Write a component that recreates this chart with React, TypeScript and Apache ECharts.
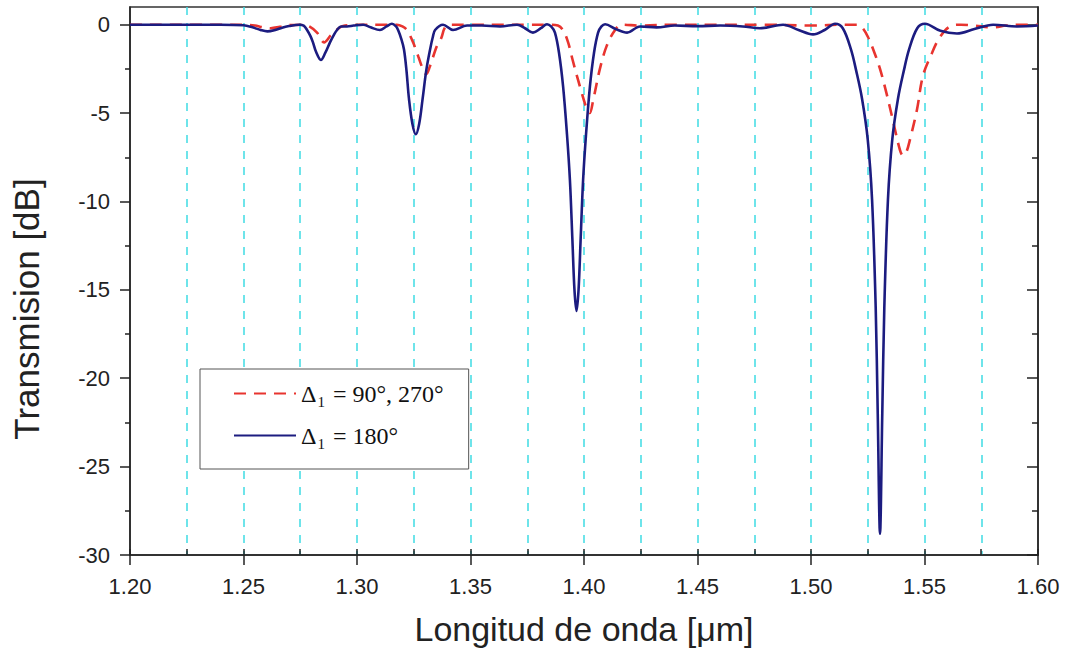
import React, { useEffect, useRef } from "react";
import * as echarts from "echarts";

// ---- data ----
const xTicks = [1.2, 1.25, 1.3, 1.35, 1.4, 1.45, 1.5, 1.55, 1.6];
const xMinorTicks = [1.225, 1.275, 1.325, 1.375, 1.425, 1.475, 1.525, 1.575];
const yTicks = [-30, -25, -20, -15, -10, -5, 0];
const yMinorTicks = [-27.5, -22.5, -17.5, -12.5, -7.5, -2.5];

const solidName = "Δ1 = 180°";
const dashedName = "Δ1 = 90°, 270°";

const solidWavelength = [
  1.2, 1.22, 1.24, 1.25, 1.254, 1.2575, 1.2605, 1.264, 1.267, 1.27, 1.2745, 1.2765,
  1.278, 1.2795, 1.2806, 1.282, 1.2841, 1.286, 1.2881, 1.2897, 1.2912, 1.293, 1.2956,
  1.2985, 1.3027, 1.306, 1.3101, 1.313, 1.3154, 1.3172, 1.3181, 1.3195, 1.3207, 1.3218,
  1.3229, 1.3244, 1.3259, 1.3274, 1.3289, 1.3305, 1.3322, 1.3334, 1.3344, 1.3379,
  1.3423, 1.3485, 1.355, 1.363, 1.3705, 1.374, 1.3775, 1.381, 1.3837, 1.3855, 1.3872,
  1.389, 1.3908, 1.3925, 1.3938, 1.3949, 1.3958, 1.3967, 1.3976, 1.3985, 1.3996, 1.4009,
  1.4026, 1.4044, 1.4062, 1.4077, 1.4093, 1.414, 1.419, 1.4247, 1.432, 1.44, 1.45, 1.46,
  1.47, 1.4775, 1.4877, 1.4945, 1.5009, 1.506, 1.5106, 1.514, 1.5176, 1.5199, 1.5225,
  1.525, 1.5269, 1.5285, 1.5294, 1.5304, 1.5314, 1.5323, 1.5339, 1.5358, 1.5383, 1.5409,
  1.5432, 1.5468, 1.5502, 1.557, 1.5643, 1.572, 1.5802, 1.5907, 1.6,
];
const solidTransmission = [
  0, 0, 0, -0.03, -0.15, -0.3, -0.38, -0.3, -0.17, -0.08, 0, -0.05,
  -0.3, -0.65, -1.0, -1.55, -2.0, -1.6, -1.0, -0.6, -0.3, -0.1, -0.1,
  -0.05, 0, -0.15, -0.3, -0.1, 0.05, -0.1, -0.3, -0.8, -1.4, -2.6,
  -4.2, -5.6, -6.2, -5.6, -4.2, -2.6, -1.4, -0.7, -0.3, 0,
  -0.3, -0.05, -0.05, -0.1, 0, -0.2, -0.45, -0.2, 0.02, -0.1, -0.45,
  -1.6, -3.5, -6.2, -8.8, -12.2, -15, -16.2, -15, -12.2, -8.8, -6.2,
  -3.5, -1.6, -0.45, -0.1, 0.02, -0.25, -0.45, -0.1, -0.15, -0.05, -0.08, -0.05,
  -0.1, -0.2, 0, -0.3, -0.55, -0.3, 0.05, -0.2, -1.4, -2.6, -4.2,
  -6.5, -9.9, -16, -22, -28.8, -22, -16, -9.9, -6.5, -4.2, -2.6,
  -1.4, -0.2, 0.05, -0.35, -0.5, -0.25, 0, -0.1, -0.05,
];

const dashedWavelength = [
  1.2, 1.25, 1.255, 1.2585, 1.262, 1.266, 1.27, 1.276, 1.279, 1.2824, 1.2855, 1.2885,
  1.2915, 1.2938, 1.3, 1.31, 1.3176, 1.32, 1.322, 1.3247, 1.327, 1.329, 1.3305, 1.332,
  1.3352, 1.337, 1.3388, 1.341, 1.35, 1.365, 1.375, 1.385, 1.3885, 1.3907, 1.393, 1.395,
  1.3982, 1.4013, 1.4025, 1.404, 1.407, 1.41, 1.4137, 1.4167, 1.425, 1.44, 1.46, 1.48,
  1.5, 1.515, 1.5207, 1.5228, 1.5251, 1.5277, 1.5304, 1.5331, 1.5357, 1.5392, 1.5405,
  1.542, 1.5436, 1.5467, 1.5493, 1.5533, 1.5568, 1.5612, 1.566, 1.572, 1.58, 1.586,
  1.5934, 1.6,
];
const dashedTransmission = [
  0, 0, -0.05, -0.15, -0.2, -0.12, -0.03, 0, -0.1, -0.45, -1.0, -0.6,
  -0.25, -0.08, 0, 0, 0, -0.1, -0.3, -1.0, -1.8, -2.5, -2.8, -2.4,
  -1.2, -0.8, -0.15, 0, 0, 0, 0, 0, -0.05, -0.3, -1.0, -2.0,
  -3.5, -4.8, -5.0, -4.3, -2.5, -1.2, -0.3, 0, -0.05, 0, 0, 0,
  -0.05, 0, 0, -0.2, -0.7, -1.5, -2.5, -3.8, -5.2, -7.1, -7.4,
  -7.2, -6.5, -4.8, -2.9, -1.6, -0.7, -0.1, 0, -0.05, -0.15, -0.05,
  0, 0,
];

const SANS = "'Liberation Sans', Arial, sans-serif";
const SERIF = "'Liberation Serif', 'Times New Roman', serif";
const AXIS_COLOR = "#222";
const GRID_STYLE = { color: "#3fdbe3", type: [8, 8] as number[], width: 1.5 };
const RED = "#e8342f";
const NAVY = "#1c1c80";

export default function App() {
  const ref = useRef<HTMLDivElement>(null);

  useEffect(() => {
    if (!ref.current) return;
    const chart = echarts.init(ref.current, undefined, { renderer: "svg" });

    const solidData = solidWavelength.map((x, i) => [x, solidTransmission[i]]);
    const dashedData = dashedWavelength.map((x, i) => [x, dashedTransmission[i]]);

    const tickLine = { color: AXIS_COLOR, width: 1.5 };

    const option: any = {
      animation: false,
      backgroundColor: "#ffffff",
      grid: {
        left: 130,
        right: 27,
        top: 7,
        bottom: 99,
        show: true,
        borderColor: "#333",
        borderWidth: 1.5,
        backgroundColor: "transparent",
      },
      legend: {
        left: 200,
        top: 369,
        orient: "vertical",
        data: [dashedName, solidName],
        itemWidth: 62,
        itemHeight: 14,
        itemGap: 11,
        padding: [9, 25, 18, 33],
        borderColor: "#555",
        borderWidth: 1,
        backgroundColor: "#ffffff",
        itemStyle: { color: "rgba(0,0,0,0)", borderWidth: 0, opacity: 0 },
        formatter: (name: string) => {
          const rest = name.replace("Δ1", "");
          return `{a|Δ}{b|1}{a|${rest}}`;
        },
        textStyle: {
          fontFamily: SERIF,
          color: "#111",
          rich: {
            a: { fontFamily: SERIF, fontSize: 24, lineHeight: 28, color: "#111" },
            b: { fontFamily: SERIF, fontSize: 15, lineHeight: 16, padding: [16, 2, 0, 1], color: "#111" },
          },
        },
      },
      xAxis: [
        {
          type: "value",
          min: 1.2,
          max: 1.6,
          interval: 0.05,
          position: "bottom",
          axisLine: { show: true, onZero: false, lineStyle: { color: AXIS_COLOR, width: 1.5 } },
          axisTick: { show: true, inside: false, length: 10, customValues: xTicks, lineStyle: tickLine },
          axisLabel: {
            formatter: (v: number) => v.toFixed(2),
            customValues: xTicks,
            fontSize: 22,
            margin: 20,
            color: AXIS_COLOR,
            fontFamily: SANS,
          },
          splitLine: { show: true, showMinLine: false, showMaxLine: false, lineStyle: GRID_STYLE },
          minorTick: { show: false, splitNumber: 2 },
          minorSplitLine: { show: true, lineStyle: GRID_STYLE },
          name: "Longitud de onda [μm]",
          nameLocation: "middle",
          nameGap: 57,
          nameTextStyle: { fontSize: 34, fontFamily: SANS, color: AXIS_COLOR },
        },
        {
          type: "value",
          min: 1.2,
          max: 1.6,
          interval: 0.025,
          position: "bottom",
          axisLine: { show: false, onZero: false },
          axisTick: { show: true, inside: true, length: 6, customValues: xMinorTicks.concat(xTicks), lineStyle: tickLine },
          axisLabel: { show: false },
          splitLine: { show: false },
        },
      ],
      yAxis: [
        {
          type: "value",
          min: -30,
          max: 1,
          interval: 5,
          position: "left",
          axisLine: { show: true, onZero: false, lineStyle: { color: AXIS_COLOR, width: 1.5 } },
          axisTick: { show: true, inside: false, length: 10, customValues: yTicks, lineStyle: tickLine },
          axisLabel: {
            customValues: yTicks,
            fontSize: 22,
            margin: 20,
            color: AXIS_COLOR,
            fontFamily: SANS,
          },
          splitLine: { show: false },
          name: "Transmision [dB]",
          nameLocation: "middle",
          nameGap: 86,
          nameTextStyle: { fontSize: 35, fontFamily: SANS, color: AXIS_COLOR, padding: [0, 56, 0, 0] },
        },
        {
          type: "value",
          min: -30,
          max: 1,
          interval: 5,
          position: "left",
          axisLine: { show: false, onZero: false },
          axisTick: { show: true, inside: false, length: 5, customValues: yMinorTicks, lineStyle: tickLine },
          axisLabel: { show: false },
          splitLine: { show: false },
        },
        {
          type: "value",
          min: -30,
          max: 1,
          interval: 5,
          position: "right",
          axisLine: { show: true, onZero: false, lineStyle: { color: AXIS_COLOR, width: 1.5 } },
          axisTick: { show: true, inside: true, length: 11, customValues: yTicks, lineStyle: tickLine },
          axisLabel: { show: false },
          splitLine: { show: false },
        },
        {
          type: "value",
          min: -30,
          max: 1,
          interval: 5,
          position: "right",
          axisLine: { show: false, onZero: false },
          axisTick: { show: true, inside: true, length: 6, customValues: yMinorTicks, lineStyle: tickLine },
          axisLabel: { show: false },
          splitLine: { show: false },
        },
      ],
      series: [
        {
          name: dashedName,
          type: "line",
          xAxisIndex: 0,
          yAxisIndex: 0,
          data: dashedData,
          showSymbol: false,
          symbol: "none",
          smooth: 0.35,
          lineStyle: { color: RED, width: 2.6, type: [12, 8] },
          itemStyle: { color: RED },
          z: 3,
        },
        {
          name: solidName,
          type: "line",
          xAxisIndex: 0,
          yAxisIndex: 0,
          data: solidData,
          showSymbol: false,
          symbol: "none",
          smooth: 0.35,
          lineStyle: { color: NAVY, width: 2.6 },
          itemStyle: { color: NAVY },
          z: 4,
        },
      ],
    };

    chart.setOption(option);
    return () => chart.dispose();
  }, []);

  return (
    <div
      ref={ref}
      style={{ position: "fixed", left: 0, top: 0, width: 1065, height: 654, background: "#fff" }}
    />
  );
}
